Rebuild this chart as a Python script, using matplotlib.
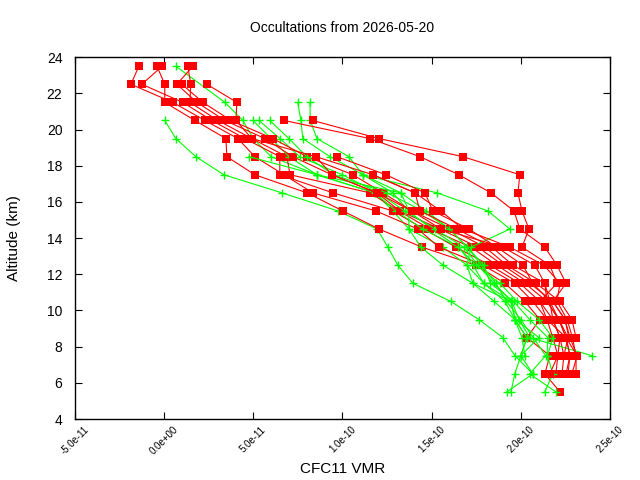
import numpy as np
import matplotlib
matplotlib.use('Agg')
import matplotlib.pyplot as plt
from matplotlib.ticker import FuncFormatter

plt.rcParams['font.family'] = ['Liberation Sans', 'DejaVu Sans']

# altitude levels (km), shared by every profile
levels = [23.5, 22.5, 21.5, 20.5, 19.5, 18.5, 17.5, 16.5, 15.5, 14.5,
          13.5, 12.5, 11.5, 10.5, 9.5, 8.5, 7.5, 6.5, 5.5]

N = None
# CFC11 VMR in units of 1e-12, one list per occultation (None = no value)
red_profiles = [
    [-4.0, 0.4, 0.4, 17.3, 34.7, 35.2, 50.9, 80.1, 100.3, 120.5, 144.6, 174.9, 191.1, 202.3, 210.7, 203.5, 216.3, 213.5, 222.0],
    [-14.1, -18.6, 4.9, 22.9, 41.4, 50.9, 67.2, 83.4, 118.8, 142.3, 154.1, 178.8, 196.7, 206.8, 214.7, 218.0, 220.8, 219.7, N],
    [-1.0, -12.5, 10.5, 26.8, 45.3, 64.9, 64.9, 94.7, 128.3, 145.7, 163.6, 182.7, 199.5, 210.7, 218.0, 222.0, 224.2, 223.1, N],
    [13.3, 15.0, 14.5, 30.2, 49.2, 68.9, 70.6, 115.4, 131.7, 149.1, 172.1, 186.6, 202.3, 214.7, 221.4, 225.4, 227.6, 226.5, N],
    [16.2, 7.2, 18.4, 34.1, 56.5, 72.2, 94.1, 119.3, 132.2, 154.7, 176.0, 190.0, 205.1, 218.0, 224.8, 227.6, 231.6, 228.7, N],
    [N, 10.0, 21.8, 37.5, 61.0, 80.1, 105.9, 122.7, 139.0, 160.3, 179.9, 192.2, 208.5, 222.0, 228.7, 231.0, N, N, N],
    [N, 24.0, 40.8, 40.3, 49.2, 85.1, 117.1, 140.7, 143.5, 164.2, 183.8, 195.6, 213.5, 214.7, 221.4, 226.5, 224.2, N, N],
    [N, N, N, 67.2, 115.4, 143.5, 165.3, 183.3, 196.2, 199.5, 213.5, 220.3, 225.4, 218.0, 224.8, 227.0, N, N, N],
    [N, N, N, 83.4, 120.5, 167.6, 199.5, 198.4, 200.7, 204.6, 200.7, 216.3, 220.3, 210.7, 214.7, 225.4, 227.6, 225.4, N],
    [N, N, N, N, N, 96.9, 124.4, 146.3, 150.7, 170.9, 186.6, 201.2, 206.8, 216.3, 221.4, 225.4, 231.6, N, N],
    [N, N, N, N, N, 85.1, 94.1, 119.3, 139.0, 155.2, 190.0, 207.9, 213.5, 216.3, 218.0, 222.0, 220.8, 216.3, N],
    [N, N, N, N, N, N, 117.1, 140.7, 155.2, 167.6, 193.9, 213.0, 222.0, 220.3, 226.0, 229.0, 231.0, 231.0, N],
]

green_profiles = [
    [N, N, N, 0.4, 6.6, 17.8, 33.5, 66.1, 97.5, 119.5, 125.5, 131.1, 139.5, 160.8, 176.5, 190.0, 196.7, 206.8, 192.2],
    [6.6, N, 34.1, 44.2, 50.0, 60.0, 85.7, 118.2, 128.3, 137.3, 156.4, 169.8, 173.2, 194.5, 196.7, 203.5, 200.0, 206.8, N],
    [N, N, 75.0, 76.7, 77.8, 93.0, 111.5, 128.3, 137.0, 150.0, 165.0, 173.2, 179.3, 194.5, 197.0, 210.2, 200.0, N, N],
    [N, N, 81.8, 82.0, 85.7, 103.6, 111.5, 132.8, 147.0, 160.0, 170.0, 179.3, 183.0, 196.0, 205.0, 215.2, 214.7, N, N],
    [N, N, N, 49.8, 60.0, 70.0, 85.7, 118.2, 130.0, 145.0, 165.0, 175.0, 188.3, 197.9, 210.2, 218.0, 215.0, 218.0, 213.5],
    [N, N, N, 53.2, 65.0, 76.0, 100.0, 120.0, 135.0, 152.0, 168.0, 176.0, 185.0, 195.0, 199.0, 205.0, 240.0, N, N],
    [N, N, N, 59.3, 70.0, 80.0, 95.0, 125.0, 145.0, 160.0, 170.0, 178.0, 186.0, 192.0, 200.0, 207.0, 214.0, 205.0, 219.7],
    [N, N, N, N, N, N, 111.5, 153.0, 181.6, 193.9, 172.1, 169.8, 179.3, 191.1, 196.7, 200.7, 202.3, N, N],
    [N, N, N, N, N, 47.6, 85.7, 132.8, 137.3, 137.3, 144.0, 156.4, 173.2, 185.0, 196.7, 203.5, 200.0, 196.7, 194.5],
]

x_ticks = [-5e-11, 0.0, 5e-11, 1e-10, 1.5e-10, 2e-10, 2.5e-10]
y_ticks = [4, 6, 8, 10, 12, 14, 16, 18, 20, 22, 24]


def draw(ax, prof, color, marker, ms):
    v = np.array([np.nan if p is None else p for p in prof], dtype=float) * 1e-12
    alt = np.array(levels)
    m = ~np.isnan(v)
    ax.plot(v[m], alt[m], color=color, lw=0.8, marker=marker, ms=ms,
            mew=(0 if marker == 's' else 1.0), mfc=color, mec=color)


fig = plt.figure(figsize=(6.4, 4.8), dpi=100)
ax = fig.add_axes([0.117, 0.127, 0.836, 0.754])

for i in range(max(len(red_profiles), len(green_profiles))):
    if i < len(green_profiles):
        draw(ax, green_profiles[i], '#00ff00', '+', 5.5)
    if i < len(red_profiles):
        draw(ax, red_profiles[i], '#ff0000', 's', 5.5)

ax.set_xlim(-5e-11, 2.5e-10)
ax.set_ylim(4, 24)
ax.set_xticks(x_ticks)
ax.set_yticks(y_ticks)
ax.xaxis.set_major_formatter(FuncFormatter(lambda x, p: '%.1e' % x))
ax.tick_params(direction='in', top=True, right=True, length=5, width=0.8)
ax.tick_params(axis='y', labelsize=10, pad=9)
ax.tick_params(axis='x', pad=4)
for lab in ax.get_xticklabels():
    lab.set_rotation(45)
    lab.set_ha('center')
    lab.set_va('top')
    lab.set_fontsize(7)
for s in ax.spines.values():
    s.set_linewidth(1.0)

ax.set_title('Occultations from 2026-05-20', fontsize=10, pad=18)
ax.set_xlabel('CFC11 VMR', fontsize=11, labelpad=4)
ax.set_ylabel('Altitude (km)', fontsize=11)
ax.yaxis.set_label_coords(-0.1, 0.5)

fig.savefig('out.png', dpi=100)
